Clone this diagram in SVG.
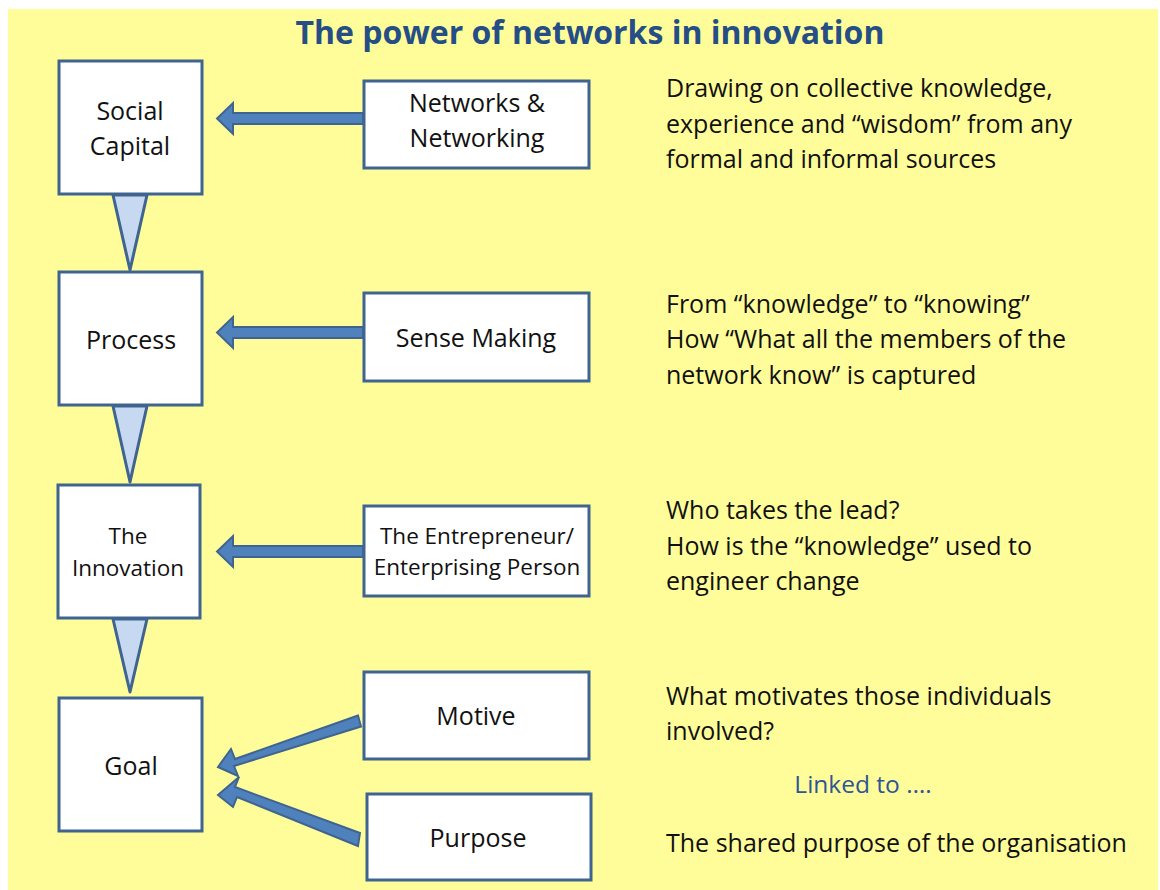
<svg xmlns="http://www.w3.org/2000/svg" width="1160" height="890" viewBox="0 0 1160 890">
<style>
.bg{fill:#FFFD99}
.box{fill:#fff;stroke:#3F6490;stroke-width:3}
.tri{fill:#C6D9F1;stroke:#3F6490;stroke-width:3;stroke-linejoin:round}
.arr{fill:#4F81BD;stroke:#3F6490;stroke-width:2;stroke-linejoin:miter}
text{font-family:"Open Sans",Lato,"Liberation Sans",sans-serif;fill:#111}
.t{font-size:25px;text-anchor:middle}
.s{font-size:22.5px;text-anchor:middle}
.r{font-size:25px}
.title{font-size:32px;font-weight:bold;fill:#254E87;text-anchor:middle}
.link{font-size:24.5px;fill:#2E5597;text-anchor:middle}
</style>
<rect width="1160" height="890" fill="#fff"/>
<rect class="bg" x="8" y="9" width="1150" height="881"/>
<text class="title" x="590" y="44">The power of networks in innovation</text>

<g id="connectors">
  <polygon class="tri" points="113,195 147,195 130,270"/>
  <polygon class="tri" points="113,406 147,406 130,482"/>
  <polygon class="tri" points="113,619 147,619 130,692"/>
  <polygon class="arr" points="363,113 233,113 233,103 217,118.5 233,134 233,124 363,124"/>
  <polygon class="arr" points="363,327 233,327 233,317 217,332.5 233,348 233,338 363,338"/>
  <polygon class="arr" points="363,546 233,546 233,536 217,551.5 233,567 233,557 363,557"/>
  <polygon class="arr" points="358,715.5 235,759 231,749 218,767 238,776 234,766 361,726.5"/>
  <polygon class="arr" points="360,833 235,787 239,777 218,795 233,807 237,797 358,846"/>
</g>

<g id="social-capital"><rect class="box" x="59" y="61" width="143" height="133"/>
<text class="t" x="130" y="120">Social</text><text class="t" x="130" y="155">Capital</text></g>
<g id="networks"><rect class="box" x="364" y="81" width="225" height="87"/>
<text class="t" x="477" y="112">Networks &amp;</text><text class="t" x="477" y="147">Networking</text></g>
<g id="process"><rect class="box" x="59" y="272" width="143" height="133"/>
<text class="t" x="131" y="349">Process</text></g>
<g id="sense-making"><rect class="box" x="364" y="293" width="225" height="88"/>
<text class="t" x="476" y="347">Sense Making</text></g>
<g id="innovation"><rect class="box" x="58" y="485" width="142" height="133"/>
<text class="s" x="128" y="544">The</text><text class="s" x="128" y="576">Innovation</text></g>
<g id="entrepreneur"><rect class="box" x="364" y="506" width="225" height="90"/>
<text class="s" x="477" y="544">The Entrepreneur/</text><text class="s" x="477" y="575">Enterprising Person</text></g>
<g id="goal"><rect class="box" x="59" y="698" width="143" height="133"/>
<text class="t" x="131" y="775">Goal</text></g>
<g id="motive"><rect class="box" x="364" y="672" width="225" height="87"/>
<text class="t" x="476" y="725">Motive</text></g>
<g id="purpose"><rect class="box" x="367" y="794" width="224" height="86"/>
<text class="t" x="478" y="847">Purpose</text></g>

<g id="notes">
<text class="r" x="666" y="97">Drawing on collective knowledge,</text>
<text class="r" x="666" y="133">experience and “wisdom” from any</text>
<text class="r" x="666" y="168">formal and informal sources</text>
<text class="r" x="666" y="313">From “knowledge” to “knowing”</text>
<text class="r" x="666" y="348">How “What all the members of the</text>
<text class="r" x="666" y="384">network know” is captured</text>
<text class="r" x="666" y="519">Who takes the lead?</text>
<text class="r" x="666" y="555">How is the “knowledge” used to</text>
<text class="r" x="666" y="590">engineer change</text>
<text class="r" x="666" y="705">What motivates those individuals</text>
<text class="r" x="666" y="740">involved?</text>
<text class="link" x="863" y="793">Linked to ….</text>
<text class="r" x="666" y="852">The shared purpose of the organisation</text>
</g>
</svg>
